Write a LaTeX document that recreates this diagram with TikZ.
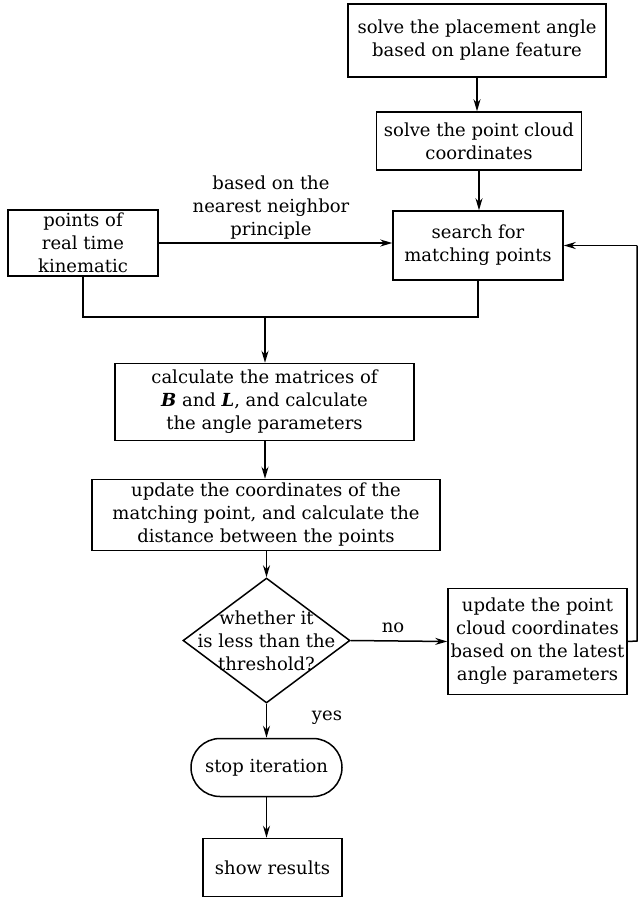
\documentclass[tikz,border=0pt]{standalone}
\usepackage{fontspec}
\setmainfont{DejaVu Serif}
\usetikzlibrary{shapes.geometric,arrows.meta}
\begin{document}
\begin{tikzpicture}[x=1pt,y=-1pt,
  every node/.style={font=\fontsize{18}{23}\selectfont, align=center},
  box/.style={draw, line width=1.5pt, inner sep=0pt},
  conn/.style={line width=1.5pt},
  arr/.style={conn, -{Stealth[length=12pt,width=7pt]}}]
\useasboundingbox (0,0) rectangle (638,899);
\node[box, minimum width=258, minimum height=73] (b1) at (477,40.5) {solve the placement angle\\based on plane feature};
\node[box, minimum width=205, minimum height=58] (b2) at (479,141) {solve the point cloud\\coordinates};
\node[box, minimum width=170, minimum height=69] (b3) at (478,245.5) {search for\\matching points};
\node[box, minimum width=150, minimum height=66] (b4) at (83,243) {points of\\real time\\kinematic};
\node (lab) at (271,208) {based on the\\nearest neighbor\\principle};
\node[box, minimum width=299, minimum height=77] (b5) at (264.5,402) {calculate the matrices of\\\textbf{\textit{B}} and \textbf{\textit{L}}, and calculate\\the angle parameters};
\node[box, minimum width=348, minimum height=71] (b6) at (266,515) {update the coordinates of the\\matching point, and calculate the\\distance between the points};
\node[diamond, draw, line width=1.5pt, minimum width=167, minimum height=125, inner sep=0pt] (d) at (266.5,640.5) {};
\node at (d) {whether it\\is less than the\\threshold?};
\node[box, minimum width=179, minimum height=106] (b7) at (537.5,641.5) {update the point\\cloud coordinates\\based on the latest\\angle parameters};
\node[box, rounded corners=29pt, minimum width=151, minimum height=58] (st) at (266.5,767.5) {stop iteration};
\node[box, minimum width=139, minimum height=58] (sr) at (272.5,867.5) {show results};
\node (no) at (393,628) {no};
\node (yes) at (327,718) {yes};
\coordinate (j) at (265,317);
\coordinate (r1) at (637,641);
\coordinate (r2) at (637,245.5);
\draw[arr] (b1.south) -- (b1.south |- b2.north);
\draw[arr] (b2.south) -- (b2.south |- b3.north);
\draw[arr] (b4.east) -- (b4.east -| b3.west);
\draw[conn] (b4.south) |- (j);
\draw[conn] (b3.south) |- (j);
\draw[arr] (j) -- (b5.north -| j);
\draw[arr] (b5.south -| j) -- (b6.north -| j);
\draw[arr] (b6.south -| d.north) -- (d.north);
\draw[arr] (d.east) -- (b7.west);
\draw[conn] (b7.east) -- (r1) -- (r2);
\draw[arr] (r2) -- (b3.east);
\draw[arr] (d.south) -- (st.north -| d.south);
\draw[arr] (st.south) -- (st.south |- sr.north);
\end{tikzpicture}
\end{document}
